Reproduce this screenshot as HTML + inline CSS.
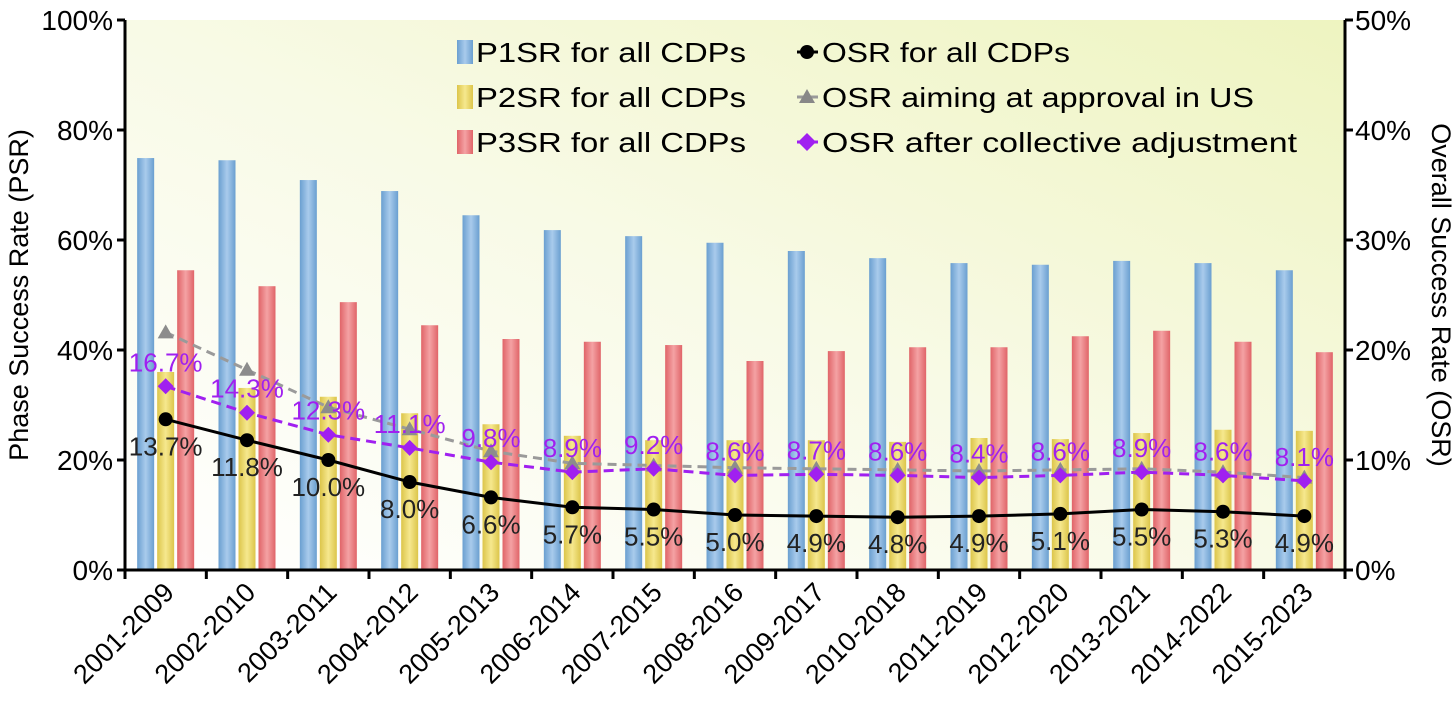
<!DOCTYPE html>
<html><head><meta charset="utf-8"><style>
html,body{margin:0;padding:0;background:#fff}
svg{display:block;font-family:"Liberation Sans",sans-serif}
</style></head><body>
<svg id="chart" width="1456" height="724" viewBox="0 0 1456 724" xmlns="http://www.w3.org/2000/svg">
<defs>
<linearGradient id="bg" x1="0" y1="1" x2="1" y2="0">
<stop offset="0" stop-color="#ffffff"/><stop offset="0.5" stop-color="#f8fae6"/><stop offset="1" stop-color="#eef4c0"/>
</linearGradient>
<linearGradient id="gb" x1="0" x2="1"><stop offset="0" stop-color="#6a9fd0"/><stop offset="0.5" stop-color="#a9cbec"/><stop offset="1" stop-color="#6a9fd0"/></linearGradient>
<linearGradient id="gy" x1="0" x2="1"><stop offset="0" stop-color="#dcc54a"/><stop offset="0.5" stop-color="#f6e88e"/><stop offset="1" stop-color="#dcc54a"/></linearGradient>
<linearGradient id="gr" x1="0" x2="1"><stop offset="0" stop-color="#e06468"/><stop offset="0.5" stop-color="#f4a2a4"/><stop offset="1" stop-color="#e06468"/></linearGradient>
</defs>
<rect x="125" y="20" width="1220" height="550" fill="url(#bg)"/>
<g id="bars"></g><g id="lines"></g><g id="axes"></g>
<g id="legend" font-size="28">
<rect x="457" y="40" width="16" height="24" fill="url(#gb)"/><text x="476" y="62" textLength="270" lengthAdjust="spacingAndGlyphs">P1SR for all CDPs</text>
<rect x="457" y="85" width="16" height="24" fill="url(#gy)"/><text x="476" y="107" textLength="270" lengthAdjust="spacingAndGlyphs">P2SR for all CDPs</text>
<rect x="457" y="130" width="16" height="24" fill="url(#gr)"/><text x="476" y="152" textLength="270" lengthAdjust="spacingAndGlyphs">P3SR for all CDPs</text>
<line x1="797" y1="52" x2="818" y2="52" stroke="#000" stroke-width="3"/><circle cx="807" cy="52" r="7" fill="#000"/><text x="822" y="62" textLength="248" lengthAdjust="spacingAndGlyphs">OSR for all CDPs</text>
<line x1="797" y1="97" x2="818" y2="97" stroke="#999" stroke-width="3"/><polygon points="807,89 815,103 799,103" fill="#888"/><text x="822" y="107" textLength="432" lengthAdjust="spacingAndGlyphs">OSR aiming at approval in US</text>
<line x1="797" y1="142" x2="818" y2="142" stroke="#a020f0" stroke-width="3"/><polygon points="807,133 816,142 807,151 798,142" fill="#a020f0"/><text x="822" y="152" textLength="475" lengthAdjust="spacingAndGlyphs">OSR after collective adjustment</text>
</g>
</svg>
<script>
const categories=["2001-2009","2002-2010","2003-2011","2004-2012","2005-2013","2006-2014","2007-2015","2008-2016","2009-2017","2010-2018","2011-2019","2012-2020","2013-2021","2014-2022","2015-2023"];
const p1=[74.9,74.5,70.9,68.9,64.5,61.8,60.7,59.5,58.0,56.7,55.8,55.5,56.2,55.8,54.5];
const p2=[36.0,33.1,31.5,28.5,26.5,24.4,23.6,23.6,23.6,23.3,24.0,23.8,24.9,25.5,25.3];
const p3=[54.5,51.6,48.7,44.5,42.0,41.5,40.9,38.0,39.8,40.5,40.5,42.5,43.5,41.5,39.6];
const osr=[13.7,11.8,10.0,8.0,6.6,5.7,5.5,5.0,4.9,4.8,4.9,5.1,5.5,5.3,4.9];
const osrUS=[21.6,18.2,14.8,12.8,10.8,9.7,9.5,9.3,9.2,9.1,9.0,9.1,9.2,8.9,8.4];
const osrAdj=[16.7,14.3,12.3,11.1,9.8,8.9,9.2,8.6,8.7,8.6,8.4,8.6,8.9,8.6,8.1];
const leftTicks=[0,20,40,60,80,100];
const rightTicks=[0,10,20,30,40,50];

const NS="http://www.w3.org/2000/svg";
const X0=125,X1=1345,Y0=570,Y1=20;
const gw=(X1-X0)/categories.length;
const xc=i=>X0+gw*(i+0.5);
const yL=v=>Y0-(v/100)*(Y0-Y1);
const yR=v=>Y0-(v/50)*(Y0-Y1);
function mk(tag,attrs,parent,txt){const e=document.createElementNS(NS,tag);for(const k in attrs)e.setAttribute(k,attrs[k]);if(txt!==undefined)e.textContent=txt;parent.appendChild(e);return e;}
const bars=document.getElementById('bars'),lines=document.getElementById('lines'),axes=document.getElementById('axes');
const bw=17,gap=3;
[[p1,'url(#gb)',-1,'p1sr'],[p2,'url(#gy)',0,'p2sr'],[p3,'url(#gr)',1,'p3sr']].forEach(([arr,fill,off,nm])=>{
 arr.forEach((v,i)=>{const x=xc(i)+off*(bw+gap)-bw/2;
  const r=mk('rect',{x:x,y:yL(v),width:bw,height:Y0-yL(v),fill:fill},bars);
  
  });
});
function line(arr,color,dash,name){
 const pts=arr.map((v,i)=>xc(i)+','+yR(v)).join(' ');
 const p=mk('polyline',{points:pts,fill:'none',stroke:color,'stroke-width':3,'stroke-dasharray':dash},lines);
 
 
}
line(osrUS,'#9a9a9a','9,6','line-osr-us');
osrUS.forEach((v,i)=>{const x=xc(i),y=yR(v);const m=mk('polygon',{points:`${x},${y-8} ${x+8},${y+6} ${x-8},${y+6}`,fill:'#8c8c8c'},lines);
 
 });
line(osrAdj,'#a020f0','10,6','line-osr-adj');
osrAdj.forEach((v,i)=>{const x=xc(i),y=yR(v);const m=mk('polygon',{points:`${x},${y-8} ${x+8},${y} ${x},${y+8} ${x-8},${y}`,fill:'#a020f0'},lines);
 
 
 const t=mk('text',{x:x,y:y-15,'text-anchor':'middle','font-size':26,fill:'#a020f0'},lines,v.toFixed(1)+'%');
 
 });
line(osr,'#000','','line-osr');
osr.forEach((v,i)=>{const x=xc(i),y=yR(v);const m=mk('circle',{cx:x,cy:y,r:7,fill:'#000'},lines);
 
 
 const t=mk('text',{x:x,y:y+36,'text-anchor':'middle','font-size':26,fill:'#222'},lines,v.toFixed(1)+'%');
 
 });
mk('line',{x1:X0,y1:Y1,x2:X0,y2:Y0,stroke:'#000','stroke-width':3},axes);
mk('line',{x1:X1,y1:Y1,x2:X1,y2:Y0,stroke:'#000','stroke-width':3},axes);
mk('line',{x1:X0,y1:Y0,x2:X1,y2:Y0,stroke:'#000','stroke-width':3},axes);
leftTicks.forEach(v=>{const y=yL(v);mk('line',{x1:X0-8,y1:y,x2:X0,y2:y,stroke:'#000','stroke-width':3},axes);
 const t=mk('text',{x:X0-12,y:y+10,'text-anchor':'end','font-size':28},axes,v+'%');
 
 });
rightTicks.forEach(v=>{const y=yR(v);mk('line',{x1:X1,y1:y,x2:X1+8,y2:y,stroke:'#000','stroke-width':3},axes);
 const t=mk('text',{x:X1+10,y:y+10,'font-size':28},axes,v+'%');
 
 });
for(let i=0;i<=categories.length;i++){mk('line',{x1:X0+gw*i,y1:Y0,x2:X0+gw*i,y2:Y0+9,stroke:'#000','stroke-width':3},axes);}
categories.forEach((c,i)=>{const x=xc(i)+10,y=Y0+24;
 const t=mk('text',{x:x,y:y,'text-anchor':'end','font-size':27,transform:`rotate(-45 ${x} ${y})`},axes,c);
 
 });
const lt=mk('text',{x:28,y:295,'text-anchor':'middle','font-size':27,transform:'rotate(-90 28 295)'},axes,'Phase Success Rate (PSR)');


const rt=mk('text',{x:1432,y:295,'text-anchor':'middle','font-size':27,transform:'rotate(90 1432 295)'},axes,'Overall Success Rate (OSR)');


</script>
</body></html>
